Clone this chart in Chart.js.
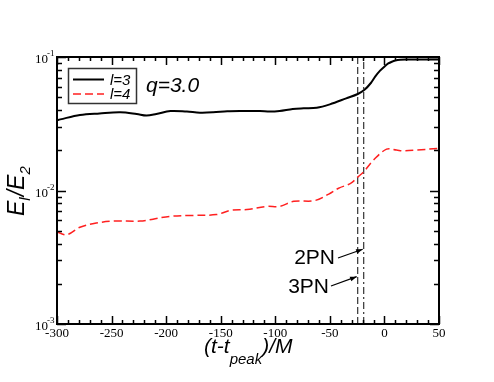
<!DOCTYPE html>
<html>
<head>
<meta charset="utf-8">
<script src="https://cdn.jsdelivr.net/npm/chart.js@4/dist/chart.umd.min.js"></script>
<style>
  body { margin: 0; background: #fff; }
  #wrap { width: 494px; height: 382px; }
</style>
</head>
<body>
<div id="wrap"><canvas id="grafica" width="494" height="382"></canvas></div>
<script>
// l=3 mode (black solid)
var tL3 = [-300, -297, -279, -261, -242, -227, -218, -209, -196, -181, -169, -157, -144, -132, -114, -105, -96, -84, -74, -62, -50, -35, -24.4, -18, -12, -8.5, -4, 0.6, 3.5, 6.8, 10, 14.4, 20, 30, 40, 50];
var l3 = [0.0336, 0.0341, 0.0368, 0.0378, 0.0385, 0.0374, 0.0364, 0.0374, 0.0394, 0.0390, 0.0383, 0.0385, 0.0392, 0.0394, 0.0394, 0.0390, 0.0394, 0.0408, 0.0413, 0.0417, 0.0442, 0.0490, 0.0528, 0.0570, 0.0645, 0.0712, 0.0790, 0.0856, 0.0895, 0.0922, 0.0940, 0.0952, 0.0956, 0.0957, 0.0957, 0.0957];

// l=4 mode (red dashed)
var tL4 = [-300, -291, -279, -264, -248, -224, -212, -197, -178, -154, -141, -126, -108, -96, -83, -64, -51, -42, -31, -24, -19, -10, 2, 11, 17, 30, 50];
var l4 = [0.0049, 0.00466, 0.0053, 0.0057, 0.0059, 0.0059, 0.0061, 0.0064, 0.0065, 0.0066, 0.0071, 0.0072, 0.0076, 0.0076, 0.0083, 0.0084, 0.0094, 0.0104, 0.0113, 0.0127, 0.0138, 0.0169, 0.0204, 0.0201, 0.0198, 0.0201, 0.0207];

// PN markers
var pnNames = ["3PN", "2PN"];
var pnTimes = [-24.5, -19];
var pnArrowY = [0.00226, 0.00363];

var xTicks = [-300, -250, -200, -150, -100, -50, 0, 50];
var yTicks = [0.001, 0.01, 0.1];
var yExp = ["-3", "-2", "-1"];

function pts(xs, ys) {
  return xs.map(function (x, i) { return { x: x, y: ys[i] }; });
}

var dibujo = {
  id: 'dibujo',
  afterDraw: function (chart) {
    var c = chart.ctx, a = chart.chartArea;
    var sx = chart.scales.x, sy = chart.scales.y;
    c.save();
    c.strokeStyle = '#000';
    c.fillStyle = '#000';

    // ticks x
    c.lineWidth = 1.5;
    for (var v = xTicks[0]; v <= xTicks[xTicks.length - 1]; v += 10) {
      var px = Math.round(sx.getPixelForValue(v)) + 0.5;
      var len = (v % 50 === 0) ? 8 : 4;
      c.beginPath();
      c.moveTo(px, a.bottom); c.lineTo(px, a.bottom - len);
      c.moveTo(px, a.top); c.lineTo(px, a.top + len);
      c.stroke();
    }
    // ticks y
    for (var d = 0; d < yTicks.length; d++) {
      for (var m = 1; m <= 9; m++) {
        var val = yTicks[d] * m;
        if (val > yTicks[yTicks.length - 1] * 1.001) break;
        var py = Math.round(sy.getPixelForValue(val)) + 0.5;
        var ln = m === 1 ? 9 : 5;
        c.beginPath();
        c.moveTo(a.left, py); c.lineTo(a.left + ln, py);
        c.moveTo(a.right, py); c.lineTo(a.right - ln, py);
        c.stroke();
      }
    }

    // frame
    c.lineWidth = 2;
    c.strokeRect(a.left, a.top, a.right - a.left, a.bottom - a.top);

    // x tick labels
    c.font = '13px "Liberation Serif", serif';
    c.textAlign = 'center';
    c.textBaseline = 'middle';
    xTicks.forEach(function (t) {
      c.fillText(String(t), sx.getPixelForValue(t), a.bottom + 10);
    });
    // y tick labels
    yTicks.forEach(function (t, i) {
      var py = sy.getPixelForValue(t);
      c.font = '13px "Liberation Serif", serif';
      c.textAlign = 'left';
      c.fillText('10', 35, py + 3);
      c.font = '9px "Liberation Serif", serif';
      c.fillText(yExp[i], 47, py - 3);
    });

    // legend
    c.lineWidth = 1.5;
    c.strokeStyle = '#333';
    c.strokeRect(68.5, 68.5, 68, 35);
    var ds = chart.data.datasets;
    [0, 1].forEach(function (k, i) {
      var ly = 79.5 + i * 14.5;
      c.strokeStyle = ds[k].borderColor;
      c.lineWidth = ds[k].borderWidth;
      c.setLineDash(ds[k].borderDash || []);
      c.beginPath(); c.moveTo(73, ly); c.lineTo(104, ly); c.stroke();
      c.setLineDash([]);
      c.fillStyle = '#000';
      c.font = 'italic 15px "Liberation Sans", Arial, sans-serif';
      c.textAlign = 'left';
      c.fillText(ds[k].label, 110, ly + 1);
    });

    // q label
    c.font = 'italic 21px "Liberation Sans", Arial, sans-serif';
    c.fillText('q=3.0', 146, 86);

    // PN annotations
    c.font = '21px "Liberation Sans", Arial, sans-serif';
    c.textAlign = 'right';
    c.strokeStyle = '#000';
    c.lineWidth = 1.3;
    var tail = [[331, 286], [338, 258]];
    var txt = [[329, 287], [335, 258]];
    pnNames.forEach(function (n, i) {
      c.fillText(n, txt[i][0], txt[i][1]);
      var hx = sx.getPixelForValue(pnTimes[i]) - 1, hy = sy.getPixelForValue(pnArrowY[i]);
      var tx = tail[i][0], ty = tail[i][1];
      c.beginPath(); c.moveTo(tx, ty); c.lineTo(hx, hy); c.stroke();
      var ang = Math.atan2(hy - ty, hx - tx);
      c.beginPath();
      c.moveTo(hx, hy);
      c.lineTo(hx - 7 * Math.cos(ang - 0.35), hy - 7 * Math.sin(ang - 0.35));
      c.lineTo(hx - 7 * Math.cos(ang + 0.35), hy - 7 * Math.sin(ang + 0.35));
      c.closePath(); c.fill();
    });

    // x title
    c.textAlign = 'left';
    c.textBaseline = 'alphabetic';
    var x0 = 204;
    c.font = 'italic 21px "Liberation Sans", Arial, sans-serif';
    c.fillText('(t-t', x0, 353); x0 += c.measureText('(t-t').width;
    c.font = 'italic 15px "Liberation Sans", Arial, sans-serif';
    c.fillText('peak', x0, 364); x0 += c.measureText('peak').width;
    c.font = 'italic 21px "Liberation Sans", Arial, sans-serif';
    c.fillText(')/M', x0, 353);

    // y title
    c.translate(24, 216);
    c.rotate(-Math.PI / 2);
    var y0 = 0;
    c.font = 'italic 23px "Liberation Sans", Arial, sans-serif';
    c.fillText('E', y0, 0); y0 += c.measureText('E').width;
    c.font = 'italic 15px "Liberation Sans", Arial, sans-serif';
    c.fillText('l', y0, 6); y0 += c.measureText('l').width + 1;
    c.font = 'italic 23px "Liberation Sans", Arial, sans-serif';
    c.fillText('/E', y0, 0); y0 += c.measureText('/E').width;
    c.font = 'italic 15px "Liberation Sans", Arial, sans-serif';
    c.fillText('2', y0, 6);
    c.restore();
  }
};

var chart = new Chart(document.getElementById('grafica').getContext('2d'), {
  type: 'line',
  data: {
    datasets: [{
      label: 'l=3',
      data: pts(tL3, l3),
      borderColor: '#000',
      borderWidth: 2,
      tension: 0.35
    }, {
      label: 'l=4',
      data: pts(tL4, l4),
      borderColor: '#ff2020',
      borderWidth: 1.5,
      borderDash: [8, 4],
      tension: 0.35
    }, {
      label: pnNames[0],
      data: [{ x: pnTimes[0], y: yTicks[0] }, { x: pnTimes[0], y: yTicks[2] }],
      borderColor: '#333',
      borderWidth: 1.2,
      borderDash: [7, 3]
    }, {
      label: pnNames[1],
      data: [{ x: pnTimes[1], y: yTicks[0] }, { x: pnTimes[1], y: yTicks[2] }],
      borderColor: '#333',
      borderWidth: 1.2,
      borderDash: [7, 3, 2, 3]
    }]
  },
  options: {
    responsive: false,
    animation: false,
    layout: { padding: { left: 57, right: 55, top: 57, bottom: 58 } },
    elements: { point: { radius: 0 } },
    plugins: { legend: { display: false }, tooltip: { enabled: false } },
    scales: {
      x: { type: 'linear', min: -300, max: 50, display: false },
      y: { type: 'logarithmic', min: 0.001, max: 0.1, display: false }
    }
  },
  plugins: [dibujo]
});
</script>
</body>
</html>
